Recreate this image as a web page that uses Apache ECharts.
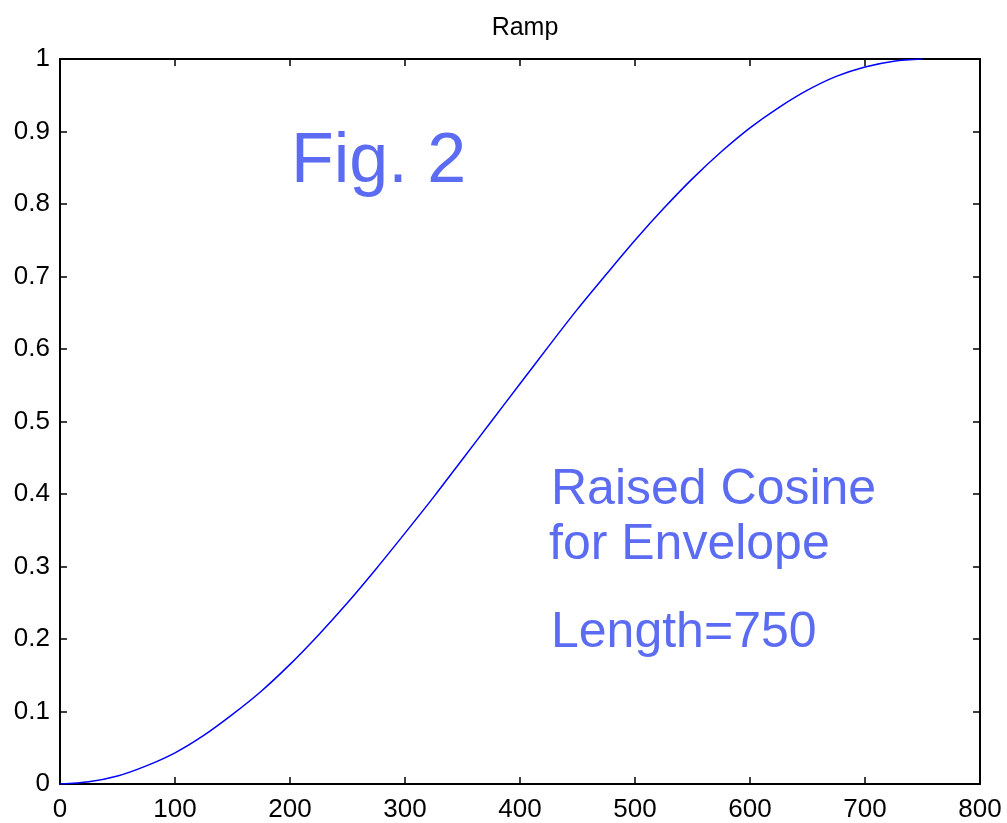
<!DOCTYPE html>
<html>
<head>
<meta charset="utf-8">
<script src="https://cdn.jsdelivr.net/npm/echarts@6/dist/echarts.min.js"></script>
<style>
  html, body { margin: 0; padding: 0; background: #fff; }
  #ramp { width: 1007px; height: 823px; }
</style>
</head>
<body>
<div id="ramp"></div>
<script>
// samples, every 25 samples
const sampleIdx = [0, 25, 50, 75, 100, 125, 150, 175, 200, 225, 250, 275, 300, 325, 350,
  375, 400, 425, 450, 475, 500, 525, 550, 575, 600, 625, 650, 675, 700, 725, 750];
const rampValues = [0, 0.003, 0.011, 0.025, 0.043, 0.067, 0.096, 0.128, 0.165, 0.206, 0.25,
  0.297, 0.346, 0.396, 0.448, 0.5, 0.552, 0.604, 0.655, 0.703, 0.75, 0.794, 0.835,
  0.872, 0.905, 0.933, 0.957, 0.976, 0.989, 0.997, 1];
const titleText = 'Ramp';
const notes = ['Fig. 2', 'Raised Cosine', 'for Envelope', 'Length=750'];

const chart = echarts.init(document.getElementById('ramp'));
const txtBlue = '#5b6cf2';
const labelFont = { color: '#000', fontSize: 26, fontFamily: 'Liberation Sans, Arial, sans-serif' };

const tickStyle = { show: true, inside: true, length: 7, lineStyle: { color: '#000', width: 1.5 } };
const lineStyle = { onZero: false, lineStyle: { color: '#000', width: 2 } };

chart.setOption({
  animation: false,
  title: {
    text: titleText,
    left: 520,
    top: 11,
    textAlign: 'center',
    textStyle: { color: '#000', fontSize: 25, fontWeight: 'normal', fontFamily: 'Liberation Sans, Arial, sans-serif' }
  },
  grid: { left: 60, right: 27, top: 59, bottom: 37.5 },
  xAxis: [
    {
      type: 'value', min: 0, max: 800, interval: 100,
      axisLine: lineStyle, axisTick: tickStyle,
      axisLabel: Object.assign({ margin: 13 }, labelFont),
      splitLine: { show: false }
    },
    {
      type: 'value', position: 'top', min: 0, max: 800, interval: 100,
      axisLine: lineStyle, axisTick: tickStyle,
      axisLabel: { show: false }, splitLine: { show: false }
    }
  ],
  yAxis: [
    {
      type: 'value', min: 0, max: 1, interval: 0.1,
      axisLine: lineStyle, axisTick: tickStyle,
      axisLabel: Object.assign({ margin: 10 }, labelFont),
      splitLine: { show: false }
    },
    {
      type: 'value', position: 'right', min: 0, max: 1, interval: 0.1,
      axisLine: lineStyle, axisTick: tickStyle,
      axisLabel: { show: false }, splitLine: { show: false }
    }
  ],
  series: [
    {
      type: 'line',
      data: sampleIdx.map((x, i) => [x, rampValues[i]]),
      showSymbol: false,
      smooth: 0.3,
      lineStyle: { color: '#0000ff', width: 1.5 }
    }
  ],
  graphic: [
    { type: 'text', style: { text: notes[0], x: 291, y: 163, fill: txtBlue, font: '70px "Liberation Sans", Arial, sans-serif', verticalAlign: 'middle' } },
    { type: 'text', style: { text: notes[1], x: 551, y: 490, fill: txtBlue, font: '50px "Liberation Sans", Arial, sans-serif', verticalAlign: 'middle' } },
    { type: 'text', style: { text: notes[2], x: 549, y: 545, fill: txtBlue, font: '50px "Liberation Sans", Arial, sans-serif', verticalAlign: 'middle' } },
    { type: 'text', style: { text: notes[3], x: 551, y: 633, fill: txtBlue, font: '50px "Liberation Sans", Arial, sans-serif', verticalAlign: 'middle' } }
  ]
});
</script>
</body>
</html>
